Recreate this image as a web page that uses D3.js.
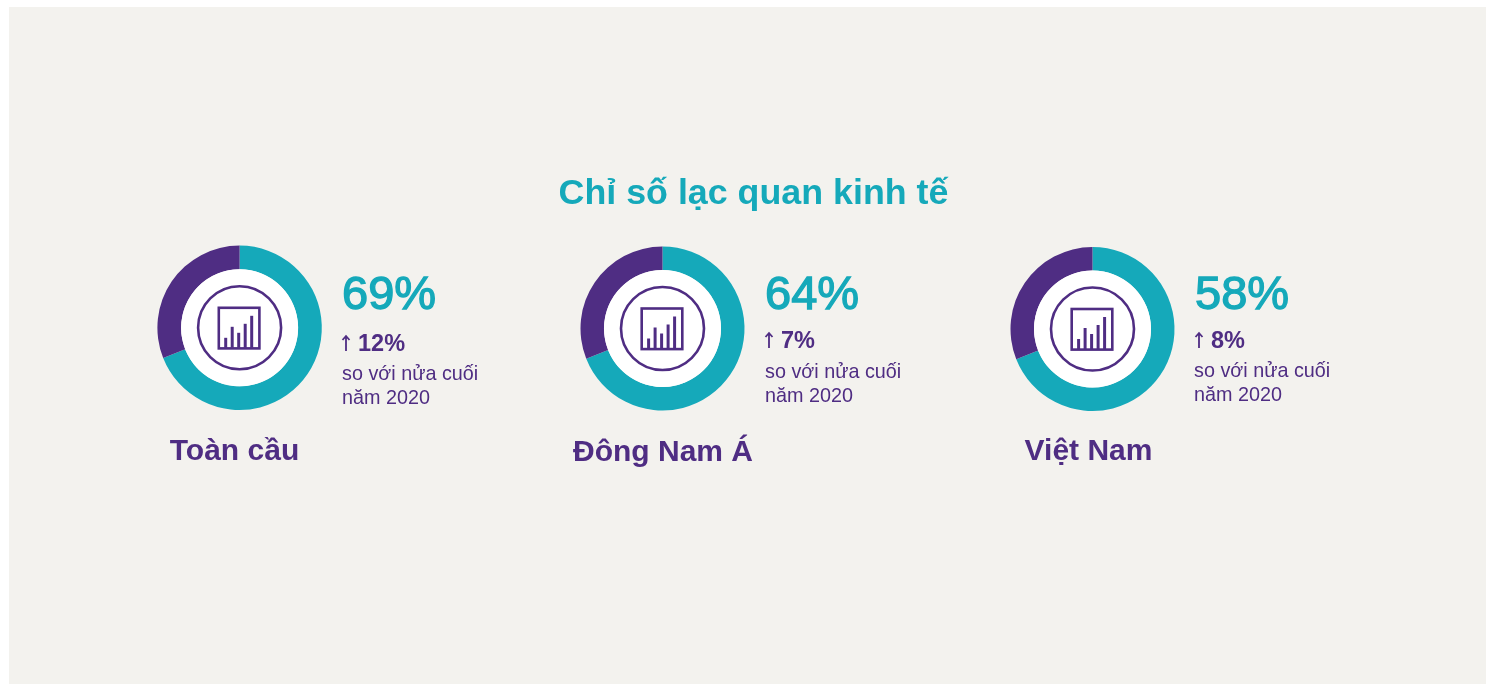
<!DOCTYPE html>
<html><head><meta charset="utf-8">
<script src="https://cdn.jsdelivr.net/npm/d3@7/dist/d3.min.js"></script>
<style>html,body{margin:0;background:#fff}svg{display:block}text{font-family:"Liberation Sans",Arial,sans-serif}#art{filter:blur(0.4px)}</style>
</head><body><svg id="c" width="1486" height="684"></svg>
<script>
const title = "Chỉ số lạc quan kinh tế";
const regions = ["Toàn cầu","Đông Nam Á","Việt Nam"];
const values = [69,64,58];
const ringShares = [69,69,69];
const changes = ["12%","7%","8%"];
const noteLines = ["so với nửa cuối","năm 2020"];
const barHeights = [10,21,15,24,32];
const layout = [
 {cx:239.6,cy:327.8,r:82.2,lx:234.5,ly:460,px:342,py:309,ax:346,ay:351,nx:342,ny:380},
 {cx:662.5,cy:328.5,r:82,lx:663,ly:461,px:765,py:309,ax:769,ay:348,nx:765,ny:378},
 {cx:1092.5,cy:329,r:82,lx:1088.5,ly:460,px:1195,py:309,ax:1199,ay:348,nx:1194,ny:377}
];
const TEAL="#15a9ba",PURPLE="#4f2d83";
const svg=d3.select("#c");
svg.append("rect").attr("x",9).attr("y",7).attr("width",1477).attr("height",677).attr("fill","#f3f2ee");
const art=svg.append("g").attr("id","art");
art.append("text").attr("x",753.5).attr("y",204).attr("text-anchor","middle").attr("font-size",35.8).attr("font-weight",700).attr("fill",TEAL).text(title);
const pie=d3.pie().sort(null);
const arc=d3.arc();
regions.forEach((name,i)=>{
 const L=layout[i];
 const g=art.append("g").attr("transform",`translate(${L.cx},${L.cy})`);
 g.selectAll("path.s").data(pie([ringShares[i],100-ringShares[i]])).join("path").attr("class","s")
  .attr("d",d=>arc({innerRadius:58.5,outerRadius:L.r,startAngle:d.startAngle,endAngle:d.endAngle}))
  .attr("fill",(d,j)=>j?PURPLE:TEAL);
 g.append("circle").attr("r",58.5).attr("fill","#fff");
 g.append("circle").attr("r",41.5).attr("fill","none").attr("stroke",PURPLE).attr("stroke-width",2.6);
 g.append("rect").attr("x",-20.8).attr("y",-20).attr("width",40.6).attr("height",40.6).attr("fill","none").attr("stroke",PURPLE).attr("stroke-width",2.6);
 const x=d3.scaleBand().domain(d3.range(barHeights.length)).range([-18.9,17.1]).padding(0.54);
 const y=d3.scaleLinear().domain([0,32]).range([20,-12]);
 g.selectAll("rect.b").data(barHeights).join("rect").attr("class","b")
  .attr("x",(d,k)=>x(k)).attr("width",x.bandwidth()).attr("y",d=>y(d)).attr("height",d=>y(0)-y(d)).attr("fill",PURPLE);
 art.append("text").attr("x",L.lx).attr("y",L.ly).attr("text-anchor","middle").attr("font-size",30).attr("font-weight",700).attr("fill",PURPLE).text(name);
 art.append("text").attr("x",L.px).attr("y",L.py).attr("font-size",47).attr("font-weight",400).attr("stroke",TEAL).attr("stroke-width",1.3).attr("fill",TEAL).text(values[i]+"%");
 art.append("text").attr("x",L.ax+12).attr("y",L.ay).attr("font-size",23.5).attr("font-weight",700).attr("fill",PURPLE).text(changes[i]);
 art.append("path").attr("d",`M${L.ax},${L.ay}V${L.ay-15}M${L.ax-3.5},${L.ay-11}L${L.ax},${L.ay-15}L${L.ax+3.5},${L.ay-11}`).attr("fill","none").attr("stroke",PURPLE).attr("stroke-width",1.8);
 noteLines.forEach((t,k)=>art.append("text").attr("x",L.nx).attr("y",L.ny+k*24).attr("font-size",19.8).attr("fill",PURPLE).text(t));
});
</script></body></html>
